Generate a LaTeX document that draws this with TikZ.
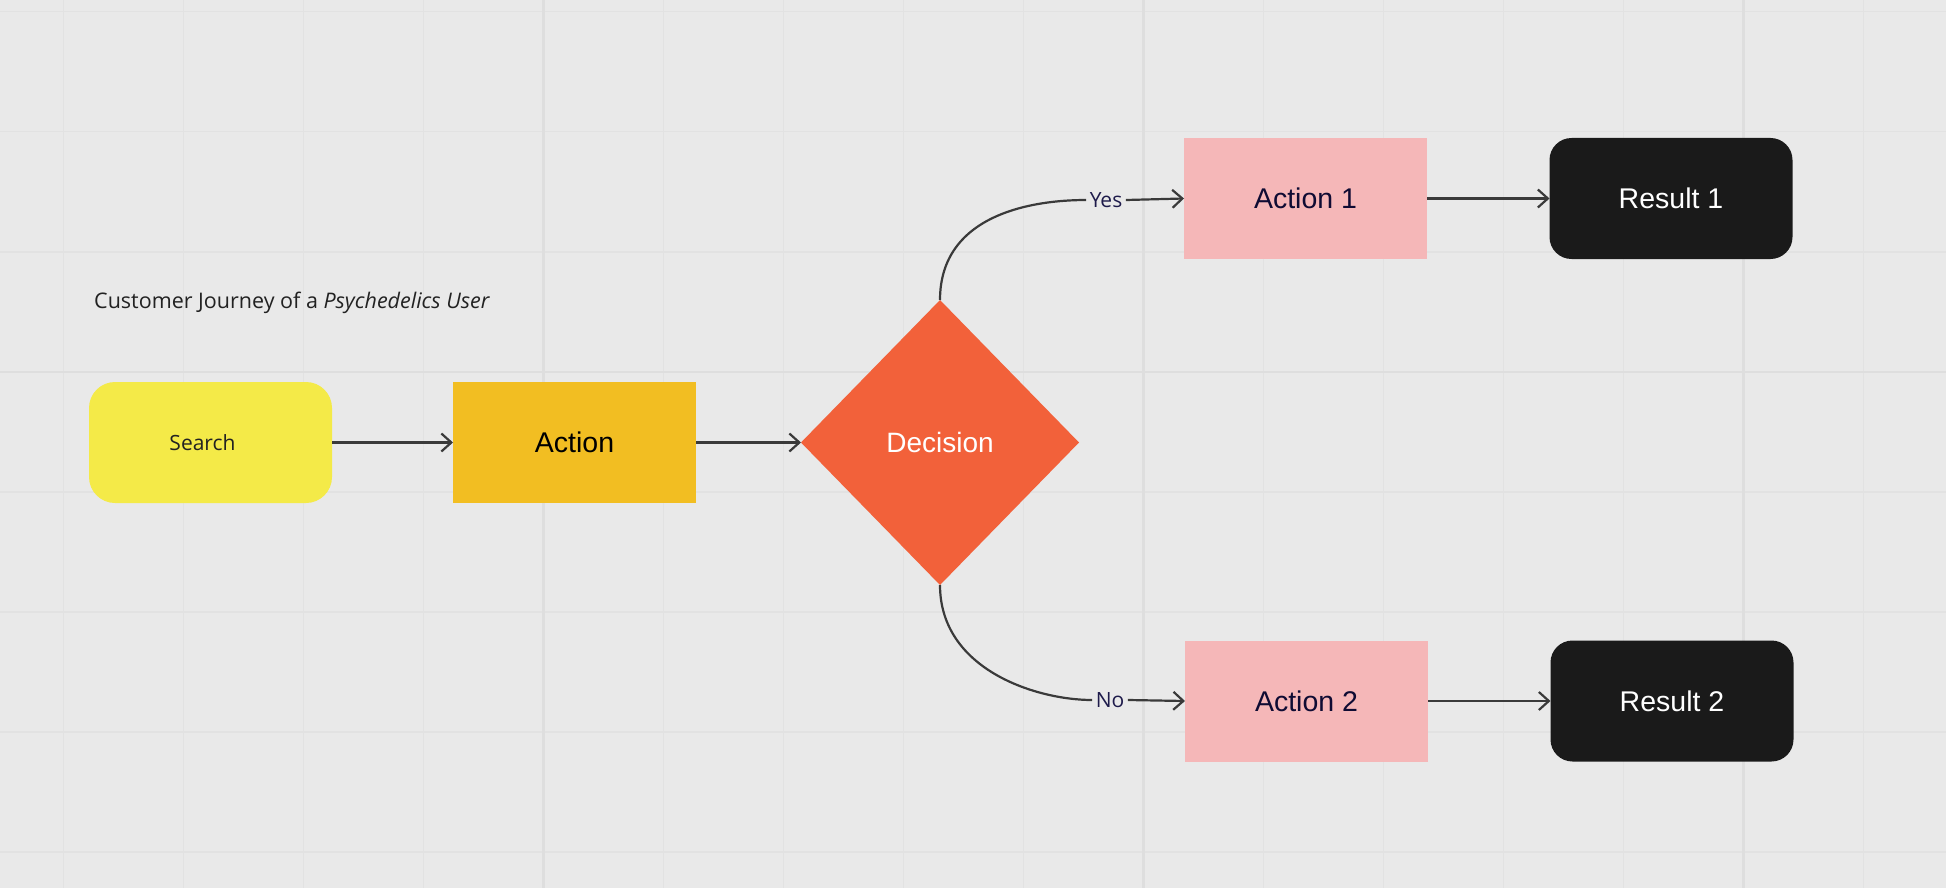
\documentclass[tikz,border=0pt]{standalone}
\usepackage{fontspec}
\setmainfont{Open Sans}
\newfontfamily\arialf{Liberation Sans}
\usetikzlibrary{arrows.meta,shapes.geometric}
\definecolor{bgc}{HTML}{E9E9E9}
\definecolor{gridc}{HTML}{E2E2E2}
\definecolor{gridmaj}{HTML}{DEDEDE}
\definecolor{yellowc}{HTML}{F4EA48}
\definecolor{amberc}{HTML}{F2BE22}
\definecolor{orangec}{HTML}{F2613A}
\definecolor{pinkc}{HTML}{F5B7B8}
\definecolor{blackc}{HTML}{1A1A1A}
\definecolor{linec}{HTML}{3A3A3A}
\definecolor{navyc}{HTML}{0F0B33}
\definecolor{labc}{HTML}{1E1B4B}
\definecolor{titlec}{HTML}{222222}
\tikzset{
  gridminor/.style={draw=gridc, line width=1.6pt},
  gridmajor/.style={draw=gridmaj, line width=2.2pt},
  boxbase/.style={minimum width=243pt, minimum height=121pt, inner sep=0pt, outer sep=0pt},
  startbox/.style={boxbase, fill=yellowc, rounded corners=26pt, font=\fontsize{21}{25}\selectfont, text=titlec},
  actbox/.style={boxbase, fill=amberc, font=\arialf\fontsize{28.5}{32}\selectfont, text=black},
  pinkbox/.style={boxbase, fill=pinkc, font=\arialf\fontsize{28.5}{32}\selectfont, text=navyc},
  resbox/.style={boxbase, fill=blackc, rounded corners=22pt, font=\arialf\fontsize{28.5}{32}\selectfont, text=white},
  decbox/.style={diamond, fill=orangec, minimum width=278pt, minimum height=285pt, inner sep=0pt, outer sep=0pt, font=\arialf\fontsize{28}{32}\selectfont, text=white},
  edgelab/.style={font=\fontsize{21}{24}\selectfont, text=labc, inner xsep=3.5pt, inner ysep=2pt},
  conn/.style={draw=linec, line width=2.2pt, -{Straight Barb[length=10pt,width=18pt,line width=2.2pt]}},
  curveconn/.style={draw=linec, line width=2.2pt},
}
\begin{document}
\begin{tikzpicture}[x=1pt,y=-1pt]
\fill[bgc] (0,0) rectangle (1946,888);
\useasboundingbox (0,0) rectangle (1946,888);
% grid
\foreach \k in {0,...,15} \draw[gridminor] (63.5+120*\k,0) -- (63.5+120*\k,888);
\foreach \k in {0,...,7} \draw[gridminor] (0,11.7+120*\k) -- (1946,11.7+120*\k);
\foreach \k in {4,9,14} \draw[gridmajor] (63.5+120*\k,0) -- (63.5+120*\k,888);
\draw[gridmajor] (0,371.7) -- (1946,371.7);

% title
\node[anchor=base west, inner sep=0pt, font=\fontsize{21.5}{25}\selectfont, text=titlec] (title) at (94,308) {Customer Journey of a \textit{Psychedelics User}};

% nodes
\node[startbox] (search) at (210.5,442.5) {Search\hspace*{16pt}};
\node[actbox] (action) at (574.5,442.5) {Action};
\node[decbox] (dec) at (940,442.5) {Decision};
\node[pinkbox] (a1) at (1305.5,198.5) {Action 1};
\node[resbox] (r1) at (1671,198.5) {Result 1};
\node[pinkbox] (a2) at (1306.5,701) {Action 2};
\node[resbox] (r2) at (1672,701) {Result 2};
\node[edgelab] (yes) at (1106,200) {Yes};
\node[edgelab] (no) at (1110,700) {No};

% connectors
\draw[conn] (search.east) -- (action.west);
\draw[conn] (action.east) -- (dec.west);
\draw[curveconn] (dec.north) .. controls +(0,-85) and +(-55,0) .. (yes.west);
\draw[conn] (yes.east) -- (a1.west);
\draw[curveconn] (dec.south) .. controls +(0,85) and +(-55,0) .. (no.west);
\draw[conn] (no.east) -- (a2.west);
\draw[conn] (a1.east) -- (r1.west);
\draw[conn] (a2.east) -- (r2.west);
\end{tikzpicture}
\end{document}
